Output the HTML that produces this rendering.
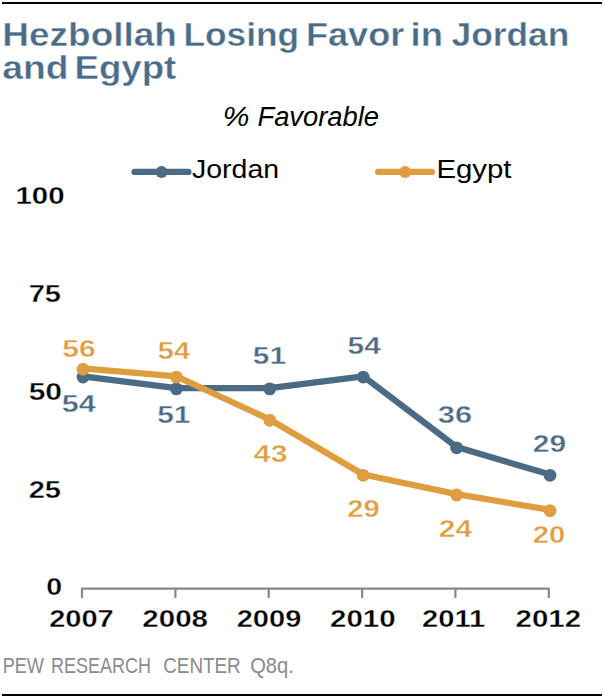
<!DOCTYPE html>
<html><head><meta charset="utf-8">
<style>
html,body{margin:0;padding:0;background:#fff;}
body{width:604px;height:698px;overflow:hidden;position:relative;}
svg{position:absolute;left:0;top:0;}
text{font-family:"Liberation Sans",sans-serif;}
</style></head><body>
<svg width="604" height="698" viewBox="0 0 604 698">
<rect x="2" y="2" width="600" height="2" fill="#000"/>
<rect x="2" y="694" width="600" height="2" fill="#000"/>
<g id="legJ"><line x1="134.6" y1="171.9" x2="188.4" y2="171.9" stroke="#4b6b85" stroke-width="6.3" stroke-linecap="round"/><circle cx="161.5" cy="171.9" r="6" fill="#4b6b85"/></g>
<g id="legE"><line x1="378.2" y1="171.9" x2="431.8" y2="171.9" stroke="#df9d40" stroke-width="6.3" stroke-linecap="round"/><circle cx="405.1" cy="171.9" r="6" fill="#df9d40"/></g>
<g id="axis"><path d="M80.90 588.6H549.90M82.00 588.6V598M175.40 588.6V598M268.70 588.6V598M362.10 588.6V598M455.40 588.6V598M548.80 588.6V598" fill="none" stroke="#888888" stroke-width="2.2"/></g>
<g id="serJ"><polyline points="83.00,376.28 176.40,388.07 269.80,388.07 363.20,376.28 456.60,447.02 550.00,474.53" fill="none" stroke="#4b6b85" stroke-width="6.3" stroke-linejoin="round"/><circle cx="83.00" cy="377.08" r="6.4" fill="#4b6b85"/><circle cx="176.40" cy="388.87" r="6.4" fill="#4b6b85"/><circle cx="269.80" cy="388.87" r="6.4" fill="#4b6b85"/><circle cx="363.20" cy="377.08" r="6.4" fill="#4b6b85"/><circle cx="456.60" cy="447.82" r="6.4" fill="#4b6b85"/><circle cx="550.00" cy="475.33" r="6.4" fill="#4b6b85"/></g>
<g id="serE"><polyline points="83.00,368.42 176.40,376.28 269.80,419.51 363.20,474.53 456.60,494.18 550.00,509.90" fill="none" stroke="#df9d40" stroke-width="6.3" stroke-linejoin="round"/><circle cx="83.00" cy="369.22" r="6.4" fill="#df9d40"/><circle cx="176.40" cy="377.08" r="6.4" fill="#df9d40"/><circle cx="269.80" cy="420.31" r="6.4" fill="#df9d40"/><circle cx="363.20" cy="475.33" r="6.4" fill="#df9d40"/><circle cx="456.60" cy="494.98" r="6.4" fill="#df9d40"/><circle cx="550.00" cy="510.70" r="6.4" fill="#df9d40"/></g>
<text id="t1a" x="2.30" y="45.50" font-size="33.70" fill="#4b6c88" font-weight="bold" textLength="174.62" lengthAdjust="spacingAndGlyphs" stroke="#fff" stroke-width="0.4">Hezbollah</text>
<text id="t1b" x="183.40" y="45.50" font-size="33.70" fill="#4b6c88" font-weight="bold" textLength="115.78" lengthAdjust="spacingAndGlyphs" stroke="#fff" stroke-width="0.4">Losing</text>
<text id="t1c" x="305.95" y="45.50" font-size="33.70" fill="#4b6c88" font-weight="bold" textLength="98.40" lengthAdjust="spacingAndGlyphs" stroke="#fff" stroke-width="0.4">Favor</text>
<text id="t1d" x="410.58" y="45.50" font-size="33.70" fill="#4b6c88" font-weight="bold" textLength="32.36" lengthAdjust="spacingAndGlyphs" stroke="#fff" stroke-width="0.4">in</text>
<text id="t1e" x="451.49" y="45.50" font-size="33.70" fill="#4b6c88" font-weight="bold" textLength="117.91" lengthAdjust="spacingAndGlyphs" stroke="#fff" stroke-width="0.4">Jordan</text>
<text id="t2a" x="2.38" y="79.00" font-size="33.70" fill="#4b6c88" font-weight="bold" textLength="66.25" lengthAdjust="spacingAndGlyphs" stroke="#fff" stroke-width="0.4">and</text>
<text id="t2b" x="74.42" y="79.00" font-size="33.70" fill="#4b6c88" font-weight="bold" textLength="101.95" lengthAdjust="spacingAndGlyphs" stroke="#fff" stroke-width="0.4">Egypt</text>
<text id="fav1" x="222.84" y="126.40" font-size="27.00" fill="#000" font-style="italic" textLength="26.66" lengthAdjust="spacingAndGlyphs">%</text>
<text id="fav2" x="257.48" y="126.40" font-size="27.00" fill="#000" font-style="italic" textLength="121.59" lengthAdjust="spacingAndGlyphs">Favorable</text>
<text id="jordan" x="192.00" y="178.40" font-size="26.00" fill="#000" textLength="87.08" lengthAdjust="spacingAndGlyphs">Jordan</text>
<text id="egypt" x="436.44" y="178.40" font-size="26.00" fill="#000" textLength="75.06" lengthAdjust="spacingAndGlyphs">Egypt</text>
<text id="y100" x="15.50" y="203.80" font-size="24.50" fill="#000" font-weight="bold" textLength="49.13" lengthAdjust="spacingAndGlyphs" stroke="#fff" stroke-width="0.35">100</text>
<text id="y75" x="28.65" y="302.20" font-size="24.50" fill="#000" font-weight="bold" textLength="32.35" lengthAdjust="spacingAndGlyphs" stroke="#fff" stroke-width="0.35">75</text>
<text id="y50" x="28.66" y="399.80" font-size="24.50" fill="#000" font-weight="bold" textLength="33.39" lengthAdjust="spacingAndGlyphs" stroke="#fff" stroke-width="0.35">50</text>
<text id="y25" x="28.65" y="497.90" font-size="24.50" fill="#000" font-weight="bold" textLength="32.35" lengthAdjust="spacingAndGlyphs" stroke="#fff" stroke-width="0.35">25</text>
<text id="y0" x="46.19" y="595.40" font-size="24.50" fill="#000" font-weight="bold" textLength="15.88" lengthAdjust="spacingAndGlyphs" stroke="#fff" stroke-width="0.35">0</text>
<text id="x2007" x="49.16" y="626.80" font-size="24.50" fill="#000" font-weight="bold" textLength="64.63" lengthAdjust="spacingAndGlyphs" stroke="#fff" stroke-width="0.35">2007</text>
<text id="x2008" x="142.32" y="626.80" font-size="24.50" fill="#000" font-weight="bold" textLength="65.65" lengthAdjust="spacingAndGlyphs" stroke="#fff" stroke-width="0.35">2008</text>
<text id="x2009" x="236.68" y="626.80" font-size="24.50" fill="#000" font-weight="bold" textLength="64.64" lengthAdjust="spacingAndGlyphs" stroke="#fff" stroke-width="0.35">2009</text>
<text id="x2010" x="330.04" y="626.80" font-size="24.50" fill="#000" font-weight="bold" textLength="65.63" lengthAdjust="spacingAndGlyphs" stroke="#fff" stroke-width="0.35">2010</text>
<text id="x2011" x="422.02" y="626.80" font-size="24.50" fill="#000" font-weight="bold" textLength="63.21" lengthAdjust="spacingAndGlyphs" stroke="#fff" stroke-width="0.35">2011</text>
<text id="x2012" x="515.56" y="626.80" font-size="24.50" fill="#000" font-weight="bold" textLength="65.63" lengthAdjust="spacingAndGlyphs" stroke="#fff" stroke-width="0.35">2012</text>
<text id="j0" x="61.87" y="412.00" font-size="23.50" fill="#4b6b85" font-weight="bold" textLength="34.01" lengthAdjust="spacingAndGlyphs" stroke="#fff" stroke-width="0.35">54</text>
<text id="j1" x="157.25" y="422.70" font-size="23.50" fill="#4b6b85" font-weight="bold" textLength="33.25" lengthAdjust="spacingAndGlyphs" stroke="#fff" stroke-width="0.35">51</text>
<text id="j2" x="252.89" y="364.40" font-size="23.50" fill="#4b6b85" font-weight="bold" textLength="33.25" lengthAdjust="spacingAndGlyphs" stroke="#fff" stroke-width="0.35">51</text>
<text id="j3" x="347.64" y="353.80" font-size="23.50" fill="#4b6b85" font-weight="bold" textLength="33.19" lengthAdjust="spacingAndGlyphs" stroke="#fff" stroke-width="0.35">54</text>
<text id="j4" x="437.88" y="423.10" font-size="23.50" fill="#4b6b85" font-weight="bold" textLength="34.25" lengthAdjust="spacingAndGlyphs" stroke="#fff" stroke-width="0.35">36</text>
<text id="j5" x="532.87" y="451.90" font-size="23.50" fill="#4b6b85" font-weight="bold" textLength="33.26" lengthAdjust="spacingAndGlyphs" stroke="#fff" stroke-width="0.35">29</text>
<text id="e0" x="62.25" y="356.50" font-size="23.50" fill="#df9d40" font-weight="bold" textLength="33.53" lengthAdjust="spacingAndGlyphs" stroke="#fff" stroke-width="0.35">56</text>
<text id="e1" x="157.85" y="358.80" font-size="23.50" fill="#df9d40" font-weight="bold" textLength="32.30" lengthAdjust="spacingAndGlyphs" stroke="#fff" stroke-width="0.35">54</text>
<text id="e2" x="253.89" y="462.20" font-size="23.50" fill="#df9d40" font-weight="bold" textLength="33.53" lengthAdjust="spacingAndGlyphs" stroke="#fff" stroke-width="0.35">43</text>
<text id="e3" x="347.38" y="516.70" font-size="23.50" fill="#df9d40" font-weight="bold" textLength="32.46" lengthAdjust="spacingAndGlyphs" stroke="#fff" stroke-width="0.35">29</text>
<text id="e4" x="438.87" y="537.40" font-size="23.50" fill="#df9d40" font-weight="bold" textLength="33.26" lengthAdjust="spacingAndGlyphs" stroke="#fff" stroke-width="0.35">24</text>
<text id="e5" x="532.88" y="543.10" font-size="23.50" fill="#df9d40" font-weight="bold" textLength="32.48" lengthAdjust="spacingAndGlyphs" stroke="#fff" stroke-width="0.35">20</text>
<text id="fa" x="2.64" y="672.80" font-size="21.40" fill="#8a8a94" textLength="41.29" lengthAdjust="spacingAndGlyphs">PEW</text>
<text id="fb" x="51.05" y="672.80" font-size="21.40" fill="#8a8a94" textLength="99.99" lengthAdjust="spacingAndGlyphs">RESEARCH</text>
<text id="fc" x="163.22" y="672.80" font-size="21.40" fill="#8a8a94" textLength="77.44" lengthAdjust="spacingAndGlyphs">CENTER</text>
<text id="fd" x="250.14" y="672.80" font-size="21.40" fill="#8a8a94" textLength="43.68" lengthAdjust="spacingAndGlyphs">Q8q.</text>
</svg>
</body></html>
